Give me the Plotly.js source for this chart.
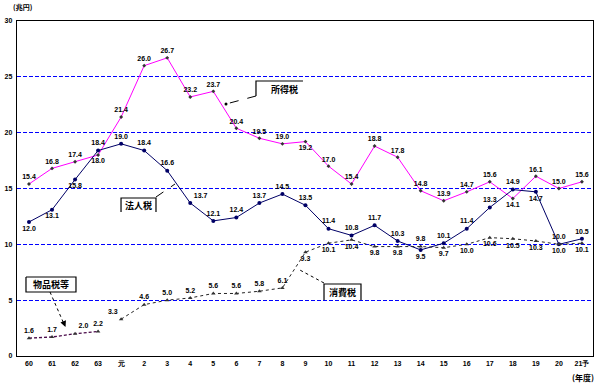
<!DOCTYPE html>
<html><head><meta charset="utf-8">
<script src="https://cdn.plot.ly/plotly-3.0.1.min.js"></script>
<style>body{margin:0;background:#fff}#chart{width:600px;height:384px;}</style>
</head><body><div id="chart"></div>
<script>
// ---- data ----
const years = ['60','61','62','63','元','2','3','4','5','6','7','8','9','10','11','12','13','14','15','16','17','18','19','20','21予'];
const incomeTax = [15.4,16.8,17.4,18.0,21.4,26.0,26.7,23.2,23.7,20.4,19.5,19.0,19.2,17.0,15.4,18.8,17.8,14.8,13.9,14.7,15.6,14.1,16.1,15.0,15.6];
const corporateTax = [12.0,13.1,15.8,18.4,19.0,18.4,16.6,13.7,12.1,12.4,13.7,14.5,13.5,11.4,10.8,11.7,10.3,9.5,10.1,11.4,13.3,14.9,14.7,10.0,10.5];
const consumptionTax = [null,null,null,null,3.3,4.6,5.0,5.2,5.6,5.6,5.8,6.1,9.3,10.1,10.4,9.8,9.8,9.8,9.7,10.0,10.6,10.5,10.3,10.0,10.1];
const commodityTax = [1.6,1.7,2.0,2.2,null,null,null,null,null,null,null,null,null,null,null,null,null,null,null,null,null,null,null,null,null];
const seriesNames = ['所得税','法人税','消費税','物品税等'];
const yTicks = [0,5,10,15,20,25,30];

// ---- label placement (style) ----
const T='top center', Bc='bottom center';
const incomePos = [T,T,T,Bc,T,T,T,T,T,T,T,T,Bc,T,T,T,T,T,T,T,T,Bc,T,T,T];
const corpPos = [Bc,Bc,Bc,T,T,T,T,'top right',T,T,T,T,T,T,T,T,T,Bc,T,T,T,T,Bc,T,T];
const consPos = [T,T,T,T,'top left',T,T,T,T,T,T,T,Bc,Bc,Bc,Bc,Bc,T,Bc,Bc,Bc,Bc,Bc,Bc,Bc];
const commPos = [T,T,'top right',T,T,T,T,T,T,T,T,T,T,T,T,T,T,T,T,T,T,T,T,T,T];

const fmt = a => a.map(v => v==null ? '' : v.toFixed(1));
const lblFont = {family:'Liberation Sans, Arial', size:7, color:'#000', weight:'bold'};

const traces = [
  {x:years, y:incomeTax, name:seriesNames[0], mode:'lines+markers+text', text:fmt(incomeTax), textposition:incomePos, textfont:lblFont,
   line:{color:'#ff00ff', width:1}, marker:{symbol:'diamond', size:3, color:'#333'}, cliponaxis:false},
  {x:years, y:corporateTax, name:seriesNames[1], mode:'lines+markers+text', text:fmt(corporateTax), textposition:corpPos, textfont:lblFont,
   line:{color:'#000066', width:1}, marker:{symbol:'circle', size:4, color:'#000066'}, cliponaxis:false},
  {x:years, y:consumptionTax, name:seriesNames[2], mode:'lines+markers+text', text:fmt(consumptionTax), textposition:consPos, textfont:lblFont,
   line:{color:'#222', width:1, dash:'dot'}, marker:{symbol:'triangle-up', size:4, color:'#333'}, cliponaxis:false, connectgaps:false},
  {x:years, y:commodityTax, name:seriesNames[3], mode:'lines+markers+text', text:fmt(commodityTax), textposition:commPos, textfont:lblFont,
   line:{color:'#4a0a4a', width:1.3, dash:'3px,2px'}, marker:{symbol:'triangle-up', size:4, color:'#333'}, cliponaxis:false, connectgaps:false}
];

// pixel -> paper helpers for callouts
const L=17, R=593, TP=21, BT=356;
const px = x => (x-L)/(R-L);
const py = y => (BT-y)/(BT-TP);
const pth = pts => 'M' + pts.map(p => px(p[0]).toFixed(4)+','+py(p[1]).toFixed(4)).join(' L');
const pShape = (pts, dash) => ({type:'path', xref:'paper', yref:'paper', path:pth(pts), line:{color:'#000', width: dash?1:1.2, dash: dash||'solid'}});

const shapes = [
  pShape([[303,81],[256,81],[256,96]]),
  pShape([[256,96],[226,104]], 'dash'),
  pShape([[121,212],[121,198],[156,198],[156,212]]),
  pShape([[156,197],[175,184]], 'dash'),
  pShape([[324,300],[324,284],[361,284],[361,300]]),
  pShape([[324,283],[298,269]], 'dot'),
  pShape([[26,277],[76,277],[76,292],[26,292],[26,277]]),
  pShape([[50,292],[64,324]], 'dot'),
  {type:'circle', xref:'paper', yref:'paper', x0:px(224.5), x1:px(227.5), y0:py(105.5), y1:py(102.5), fillcolor:'#000', line:{width:0}}
];

const jp = {family:'Noto Sans CJK JP', size:9, color:'#000', weight:'bold'};
const ann = (x,y,t,f) => ({xref:'paper', yref:'paper', x:px(x), y:py(y), text:t, showarrow:false, font:f||jp, xanchor:'center', yanchor:'middle'});
const annotations = [
  ann(284,89,seriesNames[0]),
  ann(138,205,seriesNames[1]),
  ann(342,292,seriesNames[2]),
  ann(51,284.5,seriesNames[3]),
  ann(23,7,'(兆円)', {family:'Noto Sans CJK JP', size:7, color:'#000', weight:'bold'}),
  ann(583,377,'(年度)', {family:'Noto Sans CJK JP', size:8, color:'#000', weight:'bold'}),
  {xref:'paper', yref:'paper', x:px(65.5), y:py(327), ax:px(63), ay:py(321), axref:'paper', ayref:'paper',
   text:'', showarrow:true, arrowhead:2, arrowsize:1, arrowwidth:1.2, arrowcolor:'#000'}
];

const layout = {
  width:600, height:384,
  margin:{l:17, r:7, t:21, b:28},
  paper_bgcolor:'#fff', plot_bgcolor:'#fff',
  showlegend:false,
  font:{family:'Liberation Sans, Arial', size:7, color:'#000'},
  xaxis:{type:'category', range:[-0.52,24.48], showgrid:false, zeroline:false,
         showline:true, mirror:true, linecolor:'#000', linewidth:1.2, ticks:'',
         tickfont:{family:'Liberation Sans, Arial', size:7, color:'#000', weight:'bold'}},
  yaxis:{range:[0,30], tickvals:yTicks, ticktext:yTicks.map(String), showgrid:true, gridcolor:'#0000ff', griddash:'4px,2px', gridwidth:1,
         zeroline:false, showline:true, mirror:true, linecolor:'#000', linewidth:1.2, ticks:'', ticklabelstandoff:2,
         tickfont:{family:'Liberation Sans, Arial', size:7, color:'#000', weight:'bold'}},
  shapes:shapes,
  annotations:annotations
};

Plotly.newPlot('chart', traces, layout, {displayModeBar:false, staticPlot:true});
</script>
</body></html>
